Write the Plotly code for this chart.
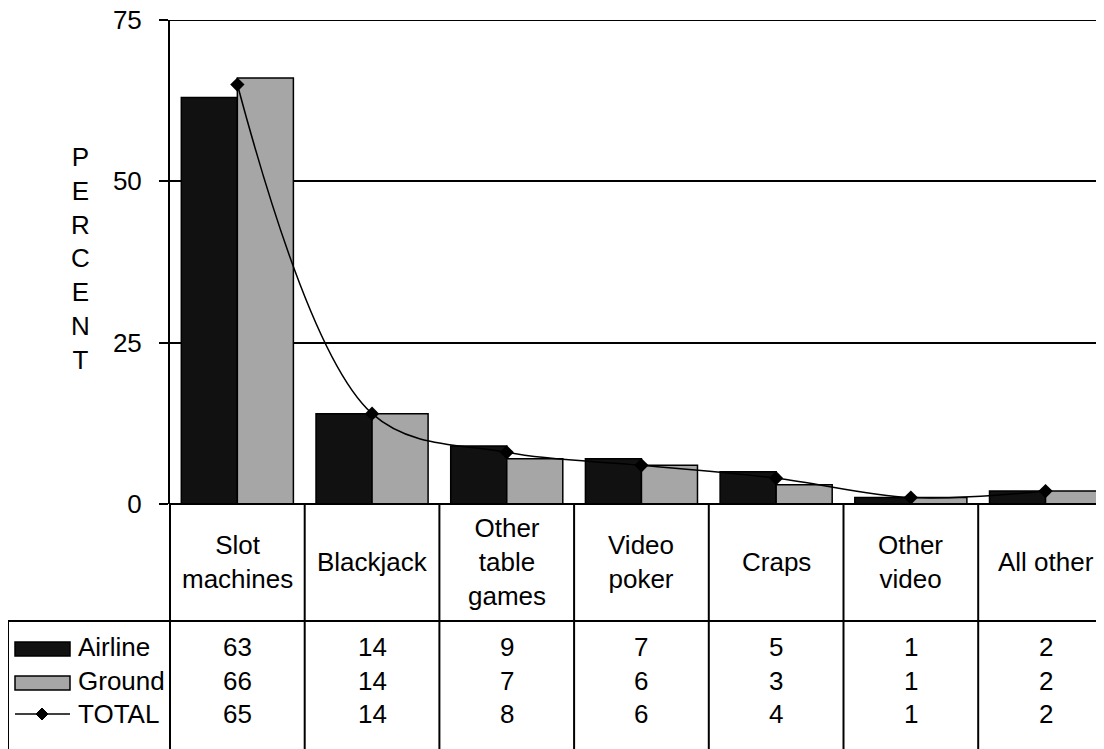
import plotly.graph_objects as go

categories = ["Slot<br>machines", "Blackjack", "Other<br>table<br>games", "Video<br>poker", "Craps", "Other<br>video", "All other"]
airline = [63, 14, 9, 7, 5, 1, 2]
ground = [66, 14, 7, 6, 3, 1, 2]
total = [65, 14, 8, 6, 4, 1, 2]
y_ticks = [0, 25, 50, 75]

FONT = "Arial, Liberation Sans, sans-serif"
FS = 26
OFF = 8  # page body margin
W, H = 1104 - OFF, 749 - OFF
L, T = 170 - OFF, 20 - OFF
B = H - (504 - OFF)
pw = W - L
ph = H - T - B
colw = 134.7

def py(pix):  # page pixel y -> paper y
    return (H - B - (pix - OFF)) / ph

def px_(pix):  # page pixel x -> paper x
    return (pix - OFF - L) / pw

xs = list(range(len(categories)))

fig = go.Figure()
fig.add_trace(go.Bar(x=xs, y=airline, name="Airline", marker=dict(color="#111111", line=dict(color="black", width=1.5))))
fig.add_trace(go.Bar(x=xs, y=ground, name="Ground", marker=dict(color="#a6a6a6", line=dict(color="black", width=1.5))))
fig.add_trace(go.Scatter(x=xs, y=total, name="TOTAL", mode="lines+markers",
                         line=dict(color="black", width=1.5, shape="spline", smoothing=1),
                         marker=dict(symbol="diamond", size=11, color="black")))

shapes = []
anns = []
# top gridline at 75
shapes.append(dict(type="line", xref="paper", yref="y", x0=px_(161), x1=1.05, y0=75, y1=75, line=dict(color="black", width=2)))
# table lines
bottom = -0.6
left = px_(8)
shapes.append(dict(type="line", xref="paper", yref="paper", x0=0, x1=1.05, y0=0, y1=0, line=dict(color="black", width=2)))
shapes.append(dict(type="line", xref="paper", yref="paper", x0=left, x1=1.05, y0=py(621), y1=py(621), line=dict(color="black", width=2)))
shapes.append(dict(type="line", xref="paper", yref="paper", x0=left, x1=left, y0=py(621), y1=bottom, line=dict(color="black", width=2)))
shapes.append(dict(type="line", xref="paper", yref="paper", x0=0, x1=0, y0=0, y1=bottom, line=dict(color="black", width=2)))
for i in range(len(categories)):
    shapes.append(dict(type="line", xref="x", yref="paper", x0=i + 0.5, x1=i + 0.5, y0=0, y1=bottom, line=dict(color="black", width=2)))

# category labels and values
row_y = [647, 681, 714]
for i, c in enumerate(categories):
    anns.append(dict(x=i, y=py(562), xref="x", yref="paper", text=c, showarrow=False, xanchor="center", yanchor="middle",
                     font=dict(size=FS, color="black", family=FONT)))
    for vals, ry in zip([airline, ground, total], row_y):
        anns.append(dict(x=i, y=py(ry), xref="x", yref="paper", text=str(vals[i]), showarrow=False, xanchor="center", yanchor="middle",
                         font=dict(size=FS, color="black", family=FONT)))

# legend keys
shapes.append(dict(type="rect", xref="paper", yref="paper", x0=px_(15), x1=px_(70), y0=py(642), y1=py(656), fillcolor="#111111", line=dict(color="black", width=1.5)))
shapes.append(dict(type="rect", xref="paper", yref="paper", x0=px_(15), x1=px_(70), y0=py(676), y1=py(690), fillcolor="#a6a6a6", line=dict(color="black", width=1.5)))
shapes.append(dict(type="line", xref="paper", yref="paper", x0=px_(15), x1=px_(70), y0=py(714), y1=py(714), line=dict(color="black", width=1.5)))
cx, cy, d = 42, 714, 6
shapes.append(dict(type="path", xref="paper", yref="paper",
                   path=f"M {px_(cx-d)},{py(cy)} L {px_(cx)},{py(cy-d)} L {px_(cx+d)},{py(cy)} L {px_(cx)},{py(cy+d)} Z",
                   fillcolor="black", line=dict(color="black", width=1)))
for name, ry in zip(["Airline", "Ground", "TOTAL"], row_y):
    anns.append(dict(x=px_(76), y=py(ry), xref="paper", yref="paper", text=name, showarrow=False, xanchor="left", yanchor="middle",
                     font=dict(size=FS, color="black", family=FONT)))

# y-axis title, stacked letters
anns.append(dict(x=px_(80), y=py(259), xref="paper", yref="paper", text="<br>".join("PERCENT"), showarrow=False,
                 xanchor="center", yanchor="middle", font=dict(size=FS, color="black", family=FONT)))

fig.update_layout(
    width=W, height=H, margin=dict(l=L, r=0, t=T, b=B, autoexpand=False),
    paper_bgcolor="white", plot_bgcolor="white",
    barmode="group", bargap=0.168, bargroupgap=0,
    showlegend=False,
    font=dict(family=FONT, size=FS, color="black"),
    shapes=shapes, annotations=anns,
)
fig.update_xaxes(range=[-0.5, -0.5 + pw / colw], showticklabels=False, showgrid=False, zeroline=False, showline=False,
                 ticks="", automargin=False)
fig.update_yaxes(range=[0, 75], tickvals=y_ticks, showgrid=True, gridcolor="black", gridwidth=2,
                 showline=True, linecolor="black", linewidth=2, ticks="outside", ticklen=9, tickwidth=2, tickcolor="black",
                 zeroline=False, tickfont=dict(size=FS, family=FONT, color="black"), ticklabelstandoff=12,
                 ticklabeloverflow="allow", automargin=False)

fig.write_html("out.html")
